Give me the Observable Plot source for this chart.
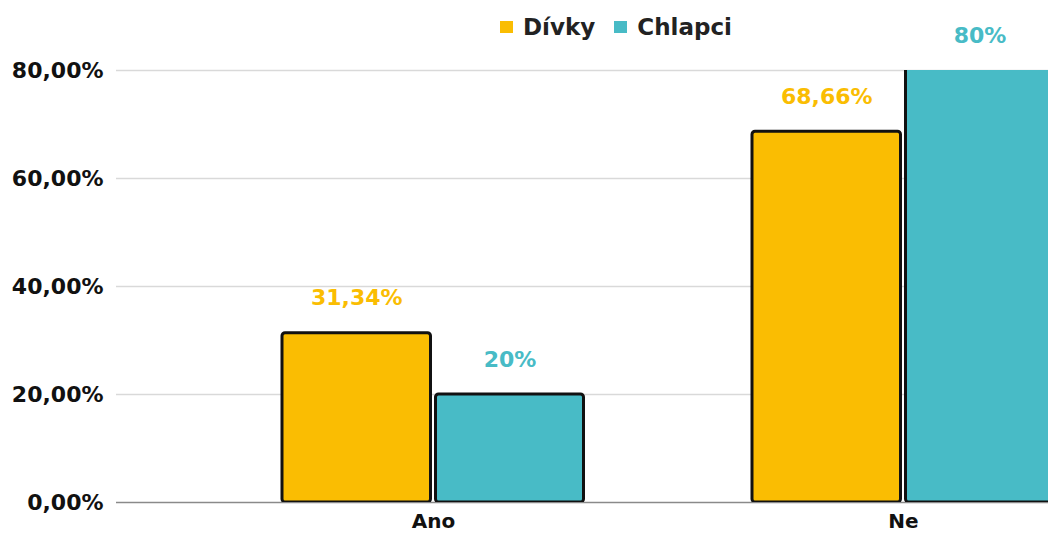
<!DOCTYPE html>
<html>
<head>
<meta charset="utf-8">
<script src="https://cdn.jsdelivr.net/npm/d3@7"></script>
<script src="https://cdn.jsdelivr.net/npm/@observablehq/plot@0.6"></script>
<style>
  html, body { margin: 0; padding: 0; background: #fff; overflow: hidden; }
  #wrap { position: relative; width: 1048px; height: 533px; }
  #legend { position: absolute; top: 14px; left: 500px; display: flex; align-items: center;
            font-family: "DejaVu Sans", sans-serif; font-weight: bold; font-size: 23px; color: #222; }
  .item { display: flex; align-items: center; margin-right: 19px; }
  .sw { width: 13px; height: 12px; margin-right: 10px; }
</style>
</head>
<body>
<div id="wrap"><div id="legend"></div></div>
<script>
const categories = ["Ano", "Ne"];
const series = ["Dívky", "Chlapci"];
const divky = [31.34, 68.66];
const chlapci = [20, 80];
const labelsDivky = ["31,34%", "68,66%"];
const labelsChlapci = ["20%", "80%"];
const colors = ["#FABD02", "#48BBC6"];
const yTicks = [0, 20, 40, 60, 80];

const yMax = 80;
const rows = [];
categories.forEach((c, i) => {
  rows.push({cat: c, series: "Dívky", value: divky[i], label: labelsDivky[i]});
  rows.push({cat: c, series: "Chlapci", value: chlapci[i], label: labelsChlapci[i]});
});

const inset = {"Dívky": [84, 237.5], "Chlapci": [237.5, 84.5]};
const dxs = {"Dívky": -76.75, "Chlapci": 76.5};

const marks = [
  Plot.ruleY(yTicks.filter(d => d > 0), {stroke: "#d9d9d9", strokeWidth: 1.5}),
  Plot.ruleY([0], {stroke: "#8a8a8a", strokeWidth: 1.5})
];
series.forEach((s, k) => {
  const d = rows.filter(r => r.series === s);
  const base = {x: "cat", y: "value", fill: colors[k], stroke: "#111", strokeWidth: 3, rx: 3,
                insetLeft: inset[s][0], insetRight: inset[s][1], clip: true};
  marks.push(Plot.barY(d.filter(r => r.value < yMax), base));
  marks.push(Plot.barY(d.filter(r => r.value >= yMax), {...base, insetTop: -5}));
  marks.push(Plot.text(d, {x: "cat", y: "value", text: "label", dx: dxs[s], dy: -35,
    fill: colors[k], fontSize: 22, fontWeight: "bold", lineAnchor: "middle"}));
});

const chart = Plot.plot({
  width: 1048,
  height: 533,
  marginLeft: 116,
  marginRight: 0,
  marginTop: 70,
  marginBottom: 31,
  style: {fontFamily: "DejaVu Sans, sans-serif", background: "transparent"},
  x: {domain: categories, range: [197.5, 1137.5], padding: 0, axis: null},
  y: {domain: [0, yMax], axis: null},
  marks: [
    ...marks,
    Plot.axisY(yTicks, {tickSize: 0, tickPadding: 13, fontSize: 22, fontWeight: "bold", fill: "#111",
      label: null, tickFormat: d => d.toFixed(2).replace(".", ",") + "%"}),
    Plot.axisX(categories, {tickSize: 0, tickPadding: 11, fontSize: 20, fontWeight: "bold", fill: "#111",
      label: null})
  ]
});
document.getElementById("wrap").prepend(chart);

const legend = document.getElementById("legend");
series.forEach((s, k) => {
  const it = document.createElement("div");
  it.className = "item";
  const sw = document.createElement("div");
  sw.className = "sw";
  sw.style.background = colors[k];
  const t = document.createElement("span");
  t.textContent = s;
  it.append(sw, t);
  legend.append(it);
});
</script>
</body>
</html>
